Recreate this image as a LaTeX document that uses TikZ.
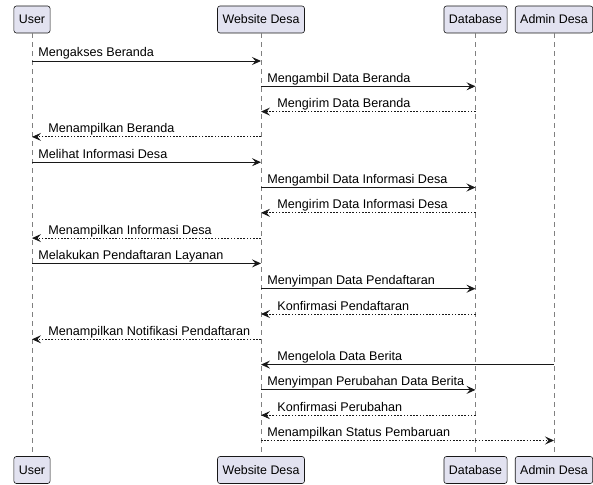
\documentclass[tikz,border=0pt]{standalone}
\usepackage{fontspec}
\setmainfont{Liberation Sans}
\usepackage{xcolor}
\usepackage{tikz}
\usetikzlibrary{arrows.meta}
\definecolor{boxfill}{HTML}{E2E2F0}
\definecolor{ink}{HTML}{181818}
\tikzstyle{actor} = [rectangle, rounded corners=2.5pt, draw=ink, fill=boxfill, line width=0.6pt, minimum height=27pt, inner xsep=5pt, text centered, font=\fontsize{12.4}{14}\selectfont]
\tikzstyle{life} = [draw=ink!55, line width=0.5pt, dash pattern=on 5pt off 4pt]
\tikzstyle{arrow} = [draw=ink, line width=0.9pt, -{Stealth[length=9pt,width=8pt,inset=3.5pt]}]
\tikzstyle{reply} = [arrow, dash pattern=on 1.6pt off 1.6pt]
\tikzstyle{msgr} = [pos=0, anchor=base west, inner sep=0pt, xshift=6pt, yshift=4pt, font=\fontsize{12.6}{14}\selectfont]
\tikzstyle{msgl} = [pos=1, anchor=base west, inner sep=0pt, xshift=16pt, yshift=4pt, font=\fontsize{12.6}{14}\selectfont]

\begin{document}
\begin{tikzpicture}[x=1pt, y=-1pt]
   \useasboundingbox (0,0) rectangle (593,484);
   \node (u) [actor] at (32,19.5) {User};
   \node (w) [actor] at (261,19.5) {Website Desa};
   \node (d) [actor] at (475.5,19.5) {Database};
   \node (a) [actor] at (554,19.5) {Admin Desa};
   \node (ub) [actor] at (32,470) {User};
   \node (wb) [actor] at (261,470) {Website Desa};
   \node (db) [actor] at (475.5,470) {Database};
   \node (ab) [actor] at (554,470) {Admin Desa};
   \draw [life] (u) -- (ub);
   \draw [life] (w) -- (wb);
   \draw [life] (d) -- (db);
   \draw [life] (a) -- (ab);
   \foreach \i in {1,...,16} {
      \pgfmathsetmacro\yy{61+25.3*(\i-1)}
      \coordinate (u\i) at (32,\yy);
      \coordinate (w\i) at (261,\yy);
      \coordinate (d\i) at (475.5,\yy);
      \coordinate (a\i) at (554,\yy);
   }
   \draw [arrow] (u1) -- node[msgr] {Mengakses Beranda} (w1);
   \draw [arrow] (w2) -- node[msgr] {Mengambil Data Beranda} (d2);
   \draw [reply] (d3) -- node[msgl] {Mengirim Data Beranda} (w3);
   \draw [reply] (w4) -- node[msgl] {Menampilkan Beranda} (u4);
   \draw [arrow] (u5) -- node[msgr] {Melihat Informasi Desa} (w5);
   \draw [arrow] (w6) -- node[msgr] {Mengambil Data Informasi Desa} (d6);
   \draw [reply] (d7) -- node[msgl] {Mengirim Data Informasi Desa} (w7);
   \draw [reply] (w8) -- node[msgl] {Menampilkan Informasi Desa} (u8);
   \draw [arrow] (u9) -- node[msgr] {Melakukan Pendaftaran Layanan} (w9);
   \draw [arrow] (w10) -- node[msgr] {Menyimpan Data Pendaftaran} (d10);
   \draw [reply] (d11) -- node[msgl] {Konfirmasi Pendaftaran} (w11);
   \draw [reply] (w12) -- node[msgl] {Menampilkan Notifikasi Pendaftaran} (u12);
   \draw [arrow] (a13) -- node[msgl] {Mengelola Data Berita} (w13);
   \draw [arrow] (w14) -- node[msgr] {Menyimpan Perubahan Data Berita} (d14);
   \draw [reply] (d15) -- node[msgl] {Konfirmasi Perubahan} (w15);
   \draw [reply] (w16) -- node[msgr] {Menampilkan Status Pembaruan} (a16);
\end{tikzpicture}
\end{document}
